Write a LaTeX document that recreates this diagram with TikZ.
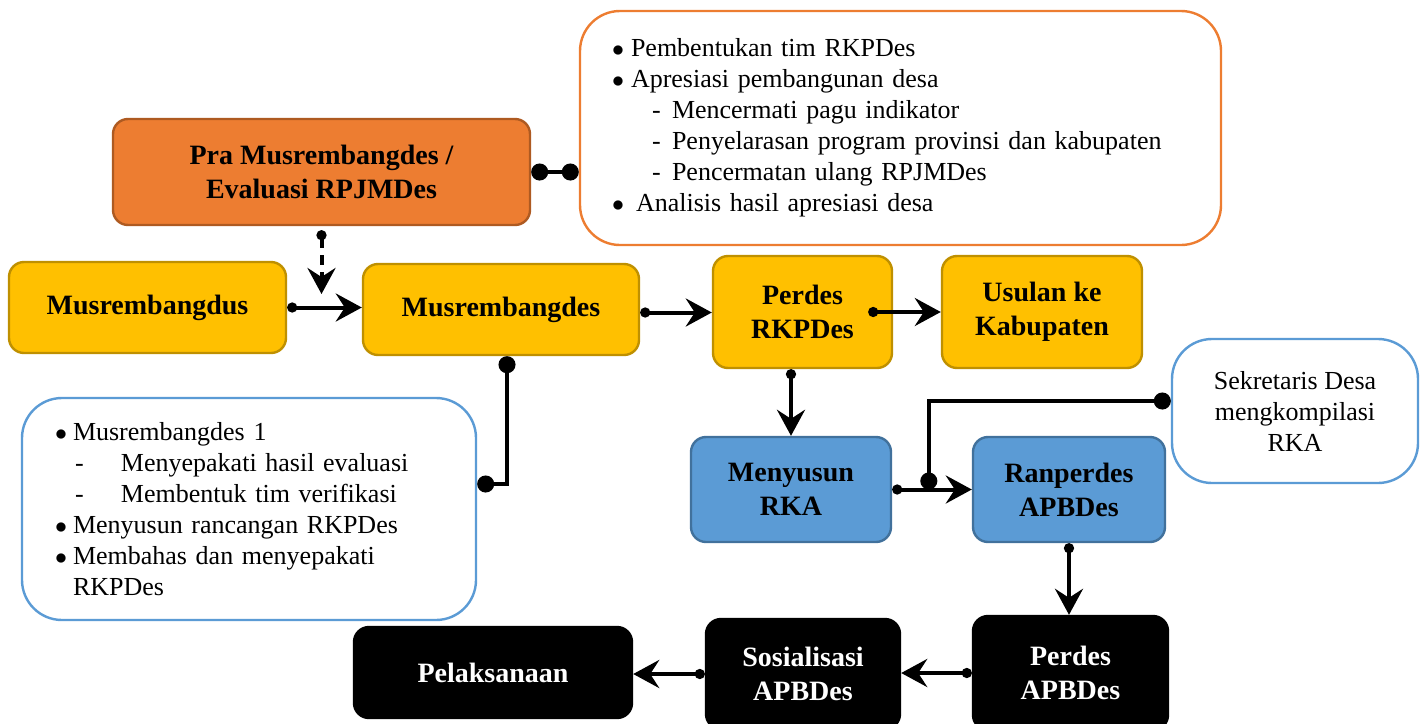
\documentclass[tikz,border=0pt]{standalone}
\usepackage{fontspec}
\setmainfont{Liberation Serif}
\usetikzlibrary{arrows.meta,positioning,calc}
\definecolor{praorange}{HTML}{ED7D31}
\definecolor{praedge}{HTML}{AE5A21}
\definecolor{rkpyellow}{HTML}{FFC000}
\definecolor{rkpedge}{HTML}{BF9000}
\definecolor{apbblue}{HTML}{5B9BD5}
\definecolor{apbedge}{HTML}{41719C}
\tikzset{
	block/.style={
		rectangle,
		rounded corners=7.5pt,
		line width=1.2pt,
		inner sep=2pt,
		align=center,
		font=\bfseries\fontsize{14}{17}\selectfont
	},
	prablock/.style={
		block,
		draw=praedge,
		fill=praorange
	},
	rkpblock/.style={
		block,
		draw=rkpedge,
		fill=rkpyellow
	},
	apbblock/.style={
		block,
		draw=apbedge,
		fill=apbblue
	},
	endblock/.style={
		block,
		draw=black,
		fill=black,
		text=white
	},
	note/.style={
		rectangle,
		rounded corners=20pt,
		line width=1.2pt,
		fill=white,
		inner ysep=2pt,
		font=\fontsize{13}{15.5}\selectfont
	},
	arrow/.style={
		draw=black,
		line width=2pt,
		{Circle[length=5pt]}-{Stealth[length=13pt,width=14pt,inset=4.5pt]}
	},
	link/.style={
		draw=black,
		line width=2pt,
		{Circle[length=8.5pt]}-{Circle[length=8.5pt]}
	}
}
\newcommand{\bulitem}[2][9.5pt]{\makebox[#1][l]{$\bullet$}#2}
\newcommand{\dashitem}[3]{\makebox[#1]{}\makebox[#2][l]{-}#3}

\begin{document}
\begin{tikzpicture}[x=0.5pt,y=-0.5pt]
	\useasboundingbox (0,0) rectangle (1424,723);
	\node [prablock] (pra) [minimum width=208.5pt,minimum height=53pt] at (321.5,172) {Pra Musrembangdes /\\Evaluasi RPJMDes};
	\node [note,draw=praorange] (pranote) [text width=288.5pt,inner xsep=16pt,align=left,minimum height=117pt] at (900.5,128) {%
		\bulitem{Pembentukan tim RKPDes}\\
		\bulitem{Apresiasi pembangunan desa}\\
		\dashitem{20pt}{10pt}{Mencermati pagu indikator}\\
		\dashitem{20pt}{10pt}{Penyelarasan program provinsi dan kabupaten}\\
		\dashitem{20pt}{10pt}{Pencermatan ulang RPJMDes}\\
		\bulitem[12pt]{Analisis hasil apresiasi desa}};
	\node [rkpblock] (mdus) [minimum width=138.5pt,minimum height=45.5pt] at (147.5,307.5) {Musrembangdus};
	\node [rkpblock] (mdes) [minimum width=138pt,minimum height=45.5pt] at (501,309.5) {Musrembangdes};
	\node [rkpblock] (prk) [minimum width=89.5pt,minimum height=56pt] at (802.5,312) {Perdes\\RKPDes};
	\node [rkpblock] (usul) [minimum width=100pt,minimum height=56pt] at (1042,312) {Usulan ke\\Kabupaten};
	\node [note,draw=apbblue] (bnote) [text width=194pt,inner xsep=16.5pt,align=left,minimum height=111pt] at (249,509) {%
		\bulitem[9pt]{Musrembangdes 1}\\
		\dashitem{10pt}{23pt}{Menyepakati hasil evaluasi}\\
		\dashitem{10pt}{23pt}{Membentuk tim verifikasi}\\
		\bulitem[9pt]{Menyusun rancangan RKPDes}\\
		\bulitem[9pt]{Membahas dan menyepakati}\\
		\makebox[9pt]{}RKPDes};
	\node [note,draw=apbblue] (sek) [minimum width=123pt,minimum height=72pt,align=center] at (1295,411) {Sekretaris Desa\\mengkompilasi\\RKA};
	\node [apbblock] (mrka) [minimum width=100pt,minimum height=52.5pt] at (791,489.5) {Menyusun\\RKA};
	\node [apbblock] (ranp) [minimum width=96pt,minimum height=52.5pt] at (1069,489.5) {Ranperdes\\APBDes};
	\node [endblock] (pab) [minimum width=97.5pt,minimum height=57pt] at (1070.5,673) {Perdes\\APBDes};
	\node [endblock] (sos) [minimum width=97pt,minimum height=55pt] at (803,674) {Sosialisasi\\APBDes};
	\node [endblock] (pel) [minimum width=139pt,minimum height=45.5pt] at (493,672.5) {Pelaksanaan};

	\coordinate (mjoin) at (321.5,294);
	\coordinate (rkajoin) at ($(mrka.east)!0.46!(ranp.west)$);

	\draw [link] (pra.east) -- (pra.east -| pranote.west);
	\draw [arrow,dash pattern=on 5pt off 3.5pt] ([yshift=-2pt]pra.south) -- (mjoin);
	\draw [arrow] (mdus.east) -- (mdus.east -| mdes.west);
	\draw [arrow] ([yshift=-1.5pt]mdes.east) -- ([yshift=-1.5pt]mdes.east -| prk.west);
	\draw [arrow] ([xshift=-12.5pt]prk.east) -- (prk.east -| usul.west);
	\draw [arrow] (mrka.north |- prk.south) -- (mrka.north);
	\draw [link] ([xshift=3pt]mdes.south) |- ([yshift=12.5pt]bnote.east);
	\draw [arrow] (mrka.east) -- (ranp.west);
	\draw [link] ([yshift=5pt]sek.west) -| (rkajoin);
	\draw [arrow] (ranp.south) -- (ranp.south |- pab.north);
	\draw [arrow] (pab.west) -- (pab.west -| sos.east);
	\draw [arrow] (sos.west) -- (sos.west -| pel.east);
\end{tikzpicture}
\end{document}
